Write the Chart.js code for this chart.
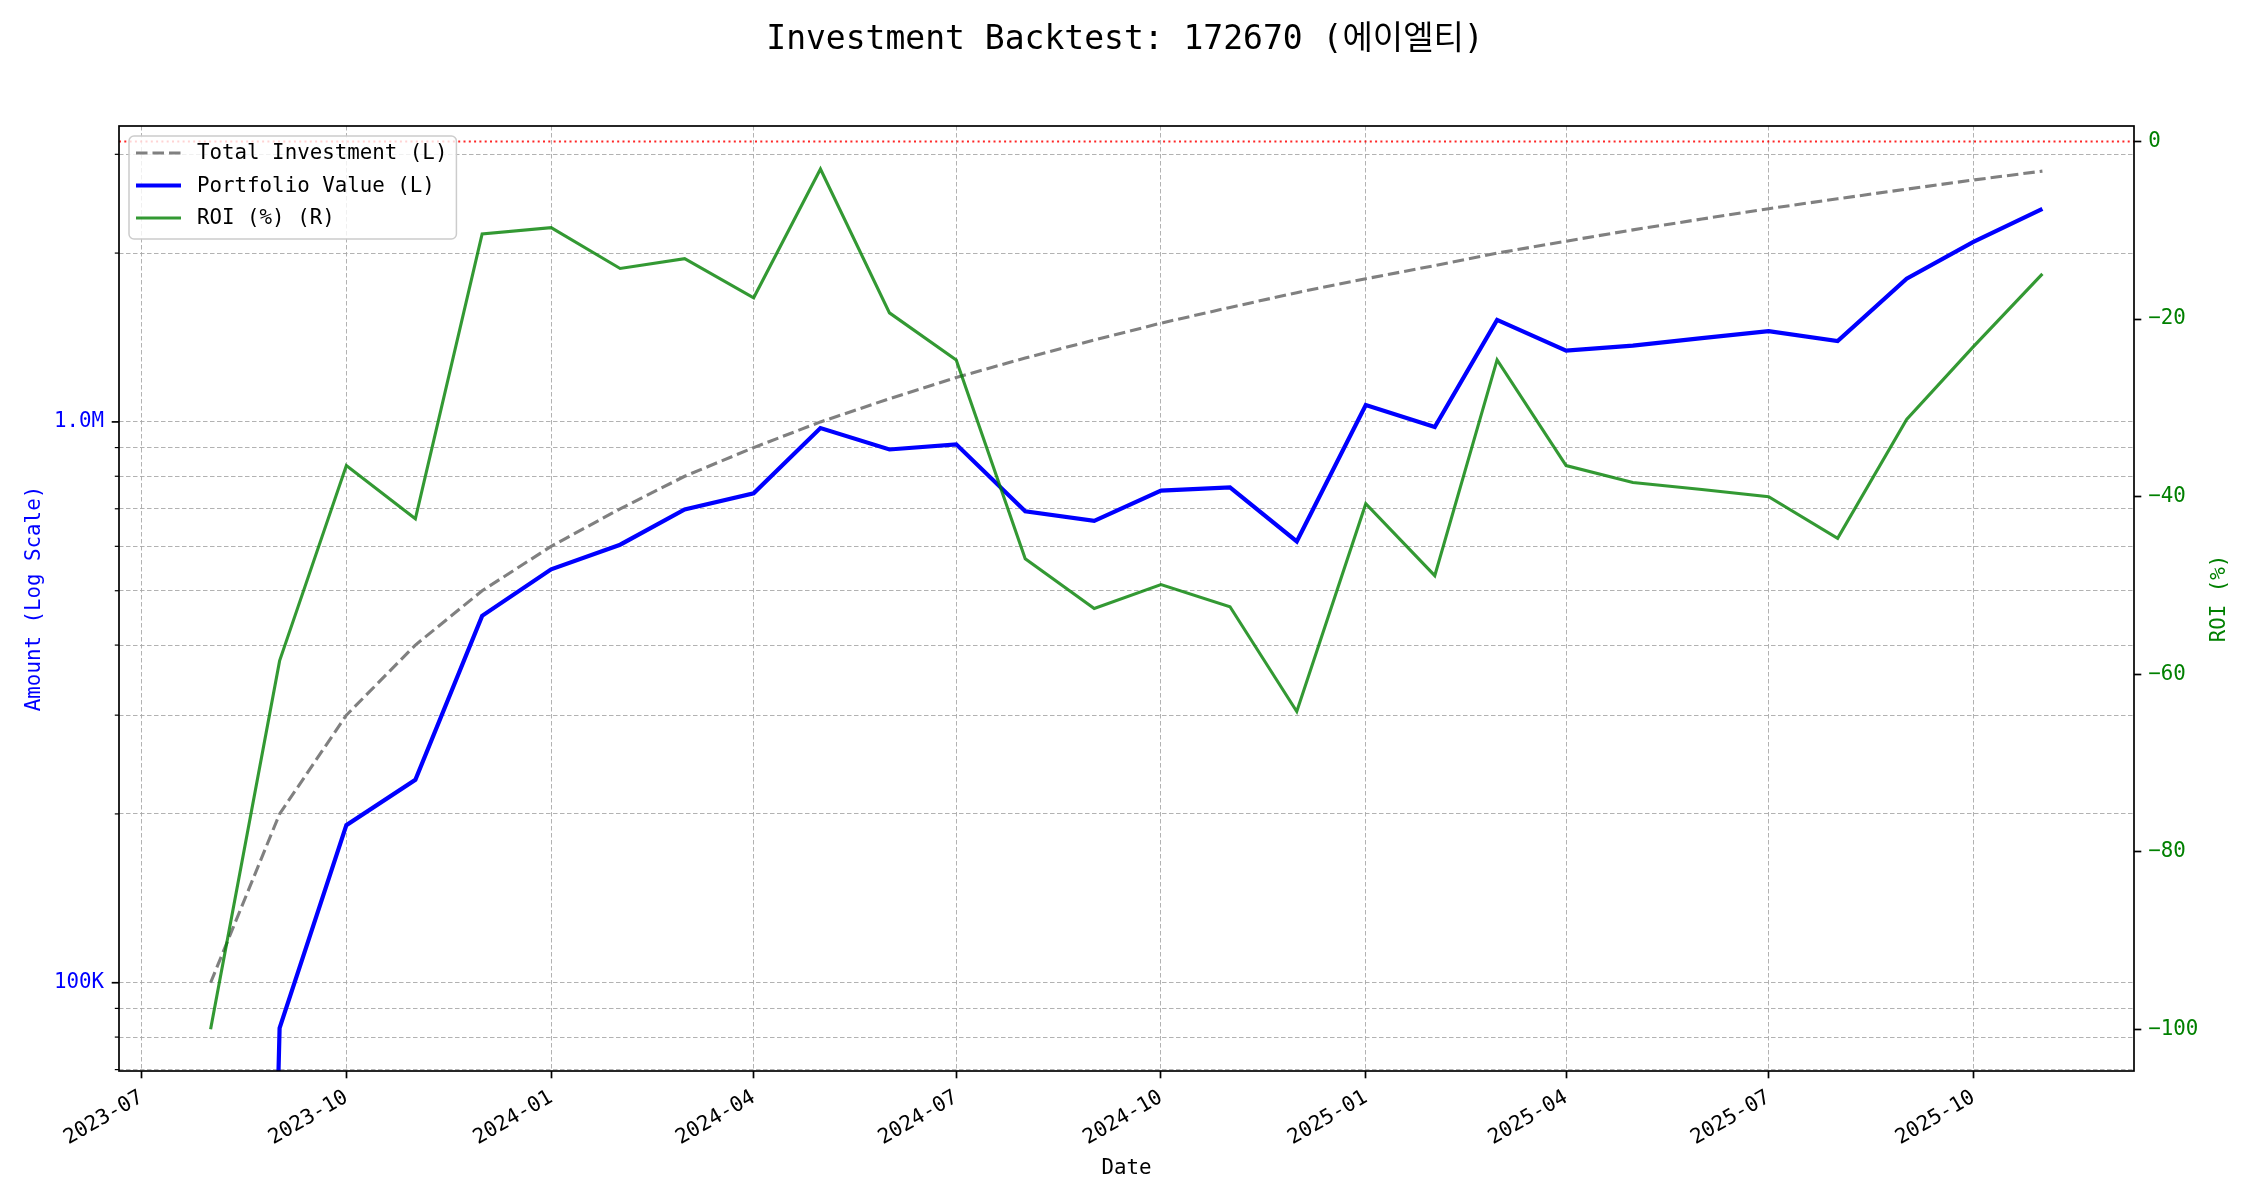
<!DOCTYPE html>
<html lang="en">
<head>
<meta charset="UTF-8">
<title>Investment Backtest: 172670 (에이엘티)</title>
<script src="https://cdn.jsdelivr.net/npm/chart.js"></script>
<style>
  body { margin: 0; background: #fff; }
  #chart { display: block; }
</style>
</head>
<body>
<canvas id="chart" width="2250" height="1200"></canvas>
<script>
// monthly points (first day of each month)
const months = [
  '2023-08', '2023-09', '2023-10', '2023-11', '2023-12',
  '2024-01', '2024-02', '2024-03', '2024-04', '2024-05', '2024-06',
  '2024-07', '2024-08', '2024-09', '2024-10', '2024-11', '2024-12',
  '2025-01', '2025-02', '2025-03', '2025-04', '2025-05', '2025-06',
  '2025-07', '2025-08', '2025-09', '2025-10', '2025-11'
];
const totalInvestment = [
  100000, 200000, 300000, 400000, 500000,
  600000, 700000, 800000, 900000, 1000000, 1100000,
  1200000, 1300000, 1400000, 1500000, 1600000, 1700000,
  1800000, 1900000, 2000000, 2100000, 2200000, 2300000,
  2400000, 2500000, 2600000, 2700000, 2800000
];
const portfolioValue = [
  0, 83000, 191000, 230000, 451000,
  546000, 604000, 698000, 746000, 975000, 893000,
  912000, 693000, 666000, 754000, 764000, 612000,
  1072000, 979000, 1520000, 1340000, 1368000, 1411000,
  1452000, 1394000, 1800000, 2094000, 2398000
];
const roiPct = [
  -100, -58.5, -36.5, -42.5, -10.4,
  -9.7, -14.3, -13.2, -17.6, -3.1, -19.3,
  -24.6, -47.0, -52.6, -49.9, -52.4, -64.2,
  -40.8, -48.9, -24.6, -36.5, -38.4, -39.2,
  -40.0, -44.7, -31.3, -23.1, -14.9
];

// tick labels
const xTickLabels = ['2023-07', '2023-10', '2024-01', '2024-04', '2024-07',
                     '2024-10', '2025-01', '2025-04', '2025-07', '2025-10'];
const amountMajorTicks = [100000, 1000000];
const amountMajorLabels = ['100K', '1.0M'];
const amountMinorTicks = [70000, 80000, 90000,
  200000, 300000, 400000, 500000, 600000, 700000, 800000, 900000,
  2000000, 3000000];
const roiTicks = [0, -20, -40, -60, -80, -100];
const roiTickLabels = ['0', '\u221220', '\u221240', '\u221260', '\u221280', '\u2212100'];

const FONT = '"DejaVu Sans Mono", "Noto Sans CJK KR", monospace';
const LOG_FLOOR = 1; // non-positive values clipped like matplotlib's log scale

const toTime = s => {
  const [y, m] = s.split('-').map(Number);
  return Date.UTC(y, m - 1, 1);
};
const times = months.map(toTime);
const span = times[times.length - 1] - times[0];
const xMin = times[0] - span * 0.05;
const xMax = times[times.length - 1] + span * 0.05;

const pts = (arr, floor) => arr.map((v, i) => ({x: times[i], y: floor && v <= 0 ? LOG_FLOOR : v}));

// frame, log-axis tick marks, right axis title and legend
const overlay = {
  id: 'overlay',
  afterDatasetsDraw(chart) {
    const {ctx, chartArea: a, scales} = chart;
    ctx.save();
    ctx.strokeStyle = '#000';
    amountMinorTicks.concat(amountMajorTicks).forEach(v => {
      const major = amountMajorTicks.includes(v);
      const y = scales.y.getPixelForValue(v);
      ctx.lineWidth = major ? 1.7 : 1.2;
      ctx.beginPath();
      ctx.moveTo(a.left - (major ? 7.3 : 4.2), y);
      ctx.lineTo(a.left, y);
      ctx.stroke();
    });
    ctx.lineWidth = 1.7;
    ctx.strokeRect(a.left, a.top, a.right - a.left, a.bottom - a.top);

    ctx.translate(a.right + 86, (a.top + a.bottom) / 2);
    ctx.rotate(-Math.PI / 2);
    ctx.fillStyle = 'green';
    ctx.font = '20.8px ' + FONT;
    ctx.textAlign = 'center';
    ctx.textBaseline = 'middle';
    ctx.fillText('ROI (%)', 0, 0);
    ctx.restore();

    // legend
    const items = chart.data.datasets.filter(d => d.label);
    ctx.save();
    ctx.font = '20.8px ' + FONT;
    const textW = Math.max(...items.map(d => ctx.measureText(d.label).width));
    const x0 = a.left + 10, y0 = a.top + 10, rowH = 32.5;
    const w = 68 + textW + 9, h = 17 + rowH * (items.length - 1) + 21;
    ctx.beginPath();
    ctx.roundRect(x0, y0, w, h, 5);
    ctx.fillStyle = 'rgba(255,255,255,0.8)';
    ctx.fill();
    ctx.strokeStyle = '#cccccc';
    ctx.lineWidth = 1.5;
    ctx.stroke();
    items.forEach((d, i) => {
      const y = y0 + 17 + i * rowH;
      ctx.setLineDash(d.borderDash || []);
      ctx.strokeStyle = d.borderColor;
      ctx.lineWidth = d.borderWidth;
      ctx.beginPath();
      ctx.moveTo(x0 + 7, y);
      ctx.lineTo(x0 + 52, y);
      ctx.stroke();
      ctx.setLineDash([]);
      ctx.fillStyle = '#000';
      ctx.textBaseline = 'middle';
      ctx.fillText(d.label, x0 + 68, y + 1);
    });
    ctx.restore();
  }
};

const gridColor = 'rgba(170,170,170,0.9)';
const tickFont = {family: FONT, size: 20.8};

new Chart(document.getElementById('chart'), {
  type: 'line',
  data: {
    datasets: [
      {
        data: [{x: xMin, y: 0}, {x: xMax, y: 0}],
        yAxisID: 'y2',
        borderColor: 'rgba(255,0,0,0.85)',
        borderWidth: 2,
        borderDash: [2, 3.3],
        pointRadius: 0,
        order: 0
      },
      {
        label: 'Total Investment (L)',
        data: pts(totalInvestment, true),
        yAxisID: 'y',
        borderColor: '#808080',
        borderWidth: 3.1,
        borderDash: [11.5, 5],
        pointRadius: 0,
        order: 3
      },
      {
        label: 'Portfolio Value (L)',
        data: pts(portfolioValue, true),
        yAxisID: 'y',
        borderColor: '#0000ff',
        borderWidth: 4.2,
        pointRadius: 0,
        order: 2
      },
      {
        label: 'ROI (%) (R)',
        data: pts(roiPct, false),
        yAxisID: 'y2',
        borderColor: 'rgba(0,128,0,0.8)',
        borderWidth: 3.1,
        pointRadius: 0,
        order: 1
      }
    ]
  },
  options: {
    responsive: false,
    animation: false,
    devicePixelRatio: 1,
    layout: {padding: 0},
    plugins: {
      legend: {display: false},
      tooltip: {enabled: false},
      title: {
        display: true,
        text: 'Investment Backtest: 172670 (에이엘티)',
        color: '#000',
        font: {family: FONT, size: 33, weight: 'normal', lineHeight: 1.2},
        padding: {top: 21, bottom: 65.4}
      }
    },
    scales: {
      x: {
        type: 'linear',
        position: 'bottom',
        min: xMin,
        max: xMax,
        afterBuildTicks: s => { s.ticks = xTickLabels.map(t => ({value: toTime(t)})); },
        afterFit: s => { s.height = 129; },
        ticks: {
          callback: (v, i) => xTickLabels[i],
          autoSkip: false,
          minRotation: 30,
          maxRotation: 30,
          padding: 7,
          color: '#000',
          font: tickFont
        },
        grid: {color: gridColor, lineWidth: 1, tickLength: 7.3, tickColor: '#000', tickWidth: 1.7},
        border: {display: false, dash: [4.5, 2.5]},
        title: {display: true, text: 'Date', color: '#000', font: tickFont, padding: {bottom: 19}}
      },
      y: {
        type: 'logarithmic',
        position: 'left',
        min: 69600,
        max: 3370000,
        afterBuildTicks: s => {
          s.ticks = amountMinorTicks.concat(amountMajorTicks).sort((p, q) => p - q).map(v => ({value: v}));
        },
        afterFit: s => { s.width = 119; },
        ticks: {
          callback: v => {
            const i = amountMajorTicks.indexOf(v);
            return i >= 0 ? amountMajorLabels[i] : '';
          },
          autoSkip: false,
          padding: 15,
          color: '#0000ff',
          font: tickFont
        },
        grid: {color: gridColor, lineWidth: 1, drawTicks: false},
        border: {display: false, dash: [4.5, 2.5]},
        title: {display: true, text: 'Amount (Log Scale)', color: '#0000ff', font: tickFont, padding: {top: 22}}
      },
      y2: {
        type: 'linear',
        position: 'right',
        min: -104.7,
        max: 1.75,
        afterBuildTicks: s => { s.ticks = roiTicks.map(v => ({value: v})); },
        afterFit: s => { s.width = 116; },
        ticks: {
          callback: (v, i) => roiTickLabels[i],
          autoSkip: false,
          padding: 7,
          color: 'green',
          font: tickFont
        },
        grid: {drawOnChartArea: false, tickLength: 7.3, tickColor: '#000', tickWidth: 1.7},
        border: {display: false}
      }
    }
  },
  plugins: [overlay]
});
</script>
</body>
</html>
